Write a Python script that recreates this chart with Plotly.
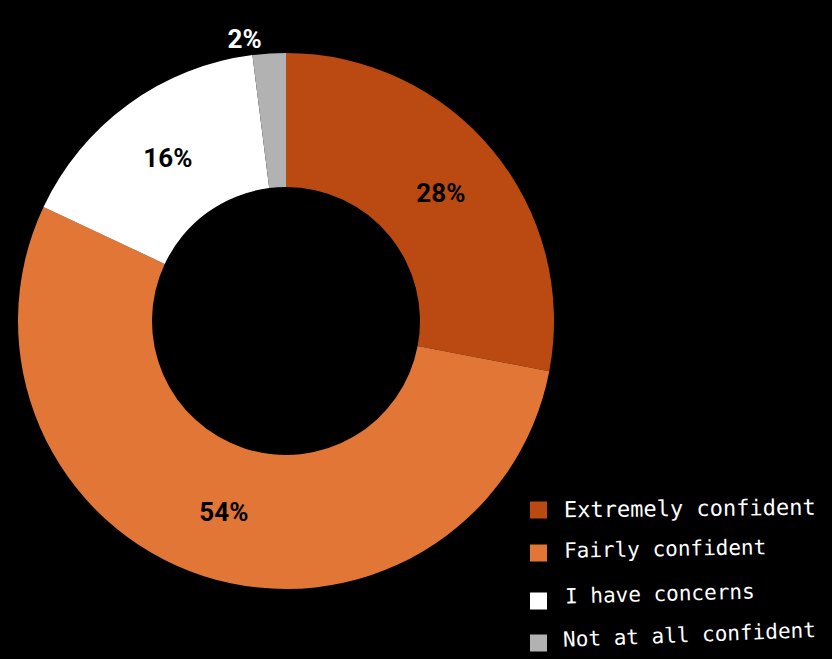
import plotly.graph_objects as go

categories = ["Extremely confident", "Fairly confident", "I have concerns", "Not at all confident"]
values = [28, 54, 16, 2]
colors = ["#BB4A12", "#E27636", "#FFFFFF", "#B2B2B2"]
label_colors = ["#000000", "#000000", "#000000", "#FFFFFF"]
text_positions = ["inside", "inside", "inside", "outside"]

W, H = 832, 659
CX, CY, R = 286, 321, 268

fig = go.Figure()
fig.add_trace(go.Pie(
    labels=categories,
    values=values,
    sort=False,
    direction="clockwise",
    rotation=0,
    hole=0.5,
    marker=dict(colors=colors, line=dict(width=0)),
    texttemplate="%{percent:.0%}",
    textposition=text_positions,
    insidetextorientation="horizontal",
    textfont=dict(family="Roboto", size=26, color=label_colors, weight="bold"),
    domain=dict(x=[(CX - R) / W, (CX + R) / W], y=[(H - CY - R) / H, (H - CY + R) / H]),
    showlegend=False,
))

# Custom legend (slightly tilted rows as in the reference)
legend_rows = [
    # square center y, text center x, text center y, angle, font size
    (510, 690, 508, -0.6, 22),
    (553, 665, 549, -1.0, 21),
    (601, 660, 594, -1.5, 21),
    (643, 689, 635, -2.2, 21),
]
sq = 17
for (sy, tx, ty, ang, fs), name, col in zip(legend_rows, categories, colors):
    fig.add_shape(
        type="rect", xref="paper", yref="paper",
        x0=530 / W, x1=(530 + sq) / W,
        y0=1 - (sy + sq / 2) / H, y1=1 - (sy - sq / 2) / H,
        fillcolor=col, line=dict(width=0),
    )
    fig.add_annotation(
        text=name, xref="paper", yref="paper",
        x=tx / W, y=1 - ty / H, xanchor="center", yanchor="middle",
        showarrow=False, textangle=ang,
        font=dict(family="DejaVu Sans Mono", size=fs, color="#FFFFFF"),
    )

fig.update_layout(
    width=W, height=H,
    paper_bgcolor="#000000", plot_bgcolor="#000000",
    margin=dict(l=0, r=0, t=0, b=0),
    showlegend=False,
)

fig.write_html(
    "out.html",
    config={"displayModeBar": False},
    post_script="document.body.style.margin='0';document.body.style.overflow='hidden';document.body.style.background='#000';",
)
